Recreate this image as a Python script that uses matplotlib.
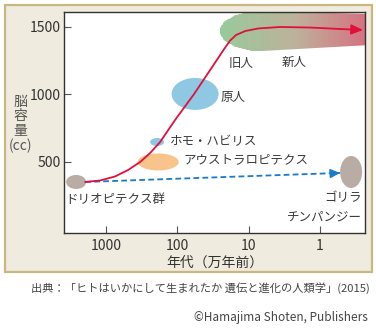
import numpy as np
import matplotlib
matplotlib.use('Agg')
import matplotlib.pyplot as plt
from matplotlib.patches import Ellipse, Polygon, Rectangle
from matplotlib.transforms import ScaledTranslation
from matplotlib.colors import LinearSegmentedColormap

plt.rcParams['font.family'] = ['Noto Sans CJK JP', 'DejaVu Sans']

# 人類の脳容量の推移（横軸：万年前、縦軸：cc）
curve_age = [1970, 1214, 748, 491, 333, 241, 175, 108, 58.3, 34.8, 22.1,
             18.2, 15.0, 11.2, 7.38, 3.63, 1.38, 0.523, 0.249]
curve_cc = [352, 363, 393, 441, 500, 567, 648, 811, 1004, 1181, 1337,
            1400, 1441, 1470, 1489, 1500, 1496, 1485, 1478]

# 類人猿の系統（点線）
ape_age = [1970, 0.523]
ape_cc = [352, 419]

# 各グループの位置
groups = ['ドリオピテクス群', 'アウストラロピテクス', 'ホモ・ハビリス', '原人', 'ゴリラ・チンパンジー']
group_age = [2635, 186, 193, 56.5, 0.366]
group_cc = [352, 500, 648, 1004, 426]

# 旧人・新人の範囲
blob_age = 6.49
blob_cc = 1470
blob_half_decades = 0.589
blob_half_cc = 150
blob_end_age = 0.2
blob_end_top = 1596
blob_end_bottom = 1370

xticks = [1000, 100, 10, 1]
xticklabels = ['1000', '100', '10', '1']
yticks = [500, 1000, 1500]

# 楕円の大きさ(px)と色
sizes = [(20, 14), (41, 17), (14, 8), (47, 32), (22, 32)]
colors = ['#b9aca5', '#f8c48c', '#8fc6e2', '#8ec8e3', '#b9aca5']

fig = plt.figure(figsize=(3.76, 3.3), dpi=100)
fig.patch.set_facecolor('white')

# 背景パネル
panel = Rectangle((5 / 376, 58 / 330), 367 / 376, 267 / 330, transform=fig.transFigure,
                  facecolor='#efebde', edgecolor='#c8b77e', lw=1.6, zorder=-5)
fig.patches.append(panel)

ax = fig.add_axes([64 / 376, 97 / 330, 301 / 376, 221 / 330])
ax.set_zorder(1)
ax.set_facecolor('white')
ax.set_xscale('log')
ax.set_xlim(3900, 0.234)
ax.set_ylim(-26, 1611)

# 旧人・新人のグラデーション（左端は楕円、右へ伸びる帯）
th = np.linspace(np.pi / 2, 3 * np.pi / 2, 60)
lx0 = np.log10(blob_age)
vx = list(10 ** (lx0 - blob_half_decades * np.cos(th)))
vy = list(blob_cc + blob_half_cc * np.sin(th))
vx += [blob_end_age, blob_end_age]
vy += [blob_end_bottom, blob_end_top]
blob = Polygon(np.column_stack([vx, vy]), closed=True, transform=ax.transData)
cmap = LinearSegmentedColormap.from_list('kyu_shin', ['#97ca9b', '#bdb29b', '#d66f7f'])
xe = np.logspace(np.log10(26), np.log10(blob_end_age), 90)
ye = np.array([1300, 1640])
mesh = ax.pcolormesh(xe, ye, np.linspace(0, 1, len(xe) - 1)[None, :], cmap=cmap,
                     shading='flat', zorder=1)
mesh.set_clip_path(blob)

for (w, h), c, a, v in zip(sizes, colors, group_age, group_cc):
    tr = fig.dpi_scale_trans + ScaledTranslation(a, v, ax.transData)
    ax.add_patch(Ellipse((0, 0), w / fig.dpi, h / fig.dpi, transform=tr,
                         facecolor=c, edgecolor='none', zorder=2))

red = '#e0103c'
blue = '#1a7bc6'
ax.plot(curve_age[:-1], curve_cc[:-1], color=red, lw=1.3, zorder=4,
        solid_capstyle='round')
ax.annotate('', xy=(curve_age[-1], curve_cc[-1]), xytext=(curve_age[-2], curve_cc[-2]),
            arrowprops=dict(arrowstyle='-|>,head_length=0.7,head_width=0.3',
                            color=red, lw=1.3, shrinkA=0, shrinkB=0), zorder=4)

ax.plot(ape_age, ape_cc, color=blue, lw=1.3, ls=(0, (3.2, 1.8)), zorder=3)
ax.annotate('', xy=(ape_age[1], ape_cc[1]), xytext=(0.6, 417),
            arrowprops=dict(arrowstyle='-|>,head_length=0.6,head_width=0.28',
                            color=blue, lw=1.0, shrinkA=0, shrinkB=0), zorder=3)

tc = '#3a3a3a'
fs = 9
ax.text(12.8, 1233, '旧人', ha='center', va='center', fontsize=fs, color=tc, zorder=5)
ax.text(2.31, 1241, '新人', ha='center', va='center', fontsize=fs, color=tc, zorder=5)
ax.text(25.2, 974, '原人', ha='left', va='center', fontsize=fs, color=tc, zorder=5)
ax.text(126, 648, 'ホモ・ハビリス', ha='left', va='center', fontsize=fs, color=tc, zorder=5)
ax.text(83.2, 515, 'アウストラロピテクス', ha='left', va='center', fontsize=fs, color=tc, zorder=5)
ax.text(3760, 219, 'ドリオピテクス群', ha='left', va='center', fontsize=fs, color=tc, zorder=5)
ax.text(0.262, 233, 'ゴリラ', ha='right', va='center', fontsize=fs, color=tc, zorder=5)
ax.text(0.262, 93, 'チンパンジー', ha='right', va='center', fontsize=fs, color=tc, zorder=5)

ax.set_xticks(xticks)
ax.set_xticklabels(xticklabels)
ax.xaxis.set_minor_locator(matplotlib.ticker.NullLocator())
ax.set_yticks(yticks)
ax.tick_params(direction='in', length=5, width=0.8, color='#555555',
               labelsize=10, labelcolor='#333333')
ax.tick_params(axis='y', pad=2)
ax.tick_params(axis='x', pad=4)
for s in ax.spines.values():
    s.set_color('#333333')
    s.set_linewidth(1.0)

ax.set_xlabel('年代（万年前）', fontsize=10, color='#333333', labelpad=2)
fig.text(20 / 376, 1 - 124 / 330, '脳\n容\n量\n(cc)', ha='center', va='center',
         fontsize=10, color='#555555', linespacing=1.05)

fig.text(370 / 376, 1 - 288 / 330, '出典：「ヒトはいかにして生まれたか 遺伝と進化の人類学」(2015)',
         ha='right', va='center', fontsize=8.1, color='#444444')
fig.text(368 / 376, 1 - 318 / 330, '©Hamajima Shoten, Publishers',
         ha='right', va='center', fontsize=8.5, color='#444444')

fig.savefig('out.png', dpi=100)
